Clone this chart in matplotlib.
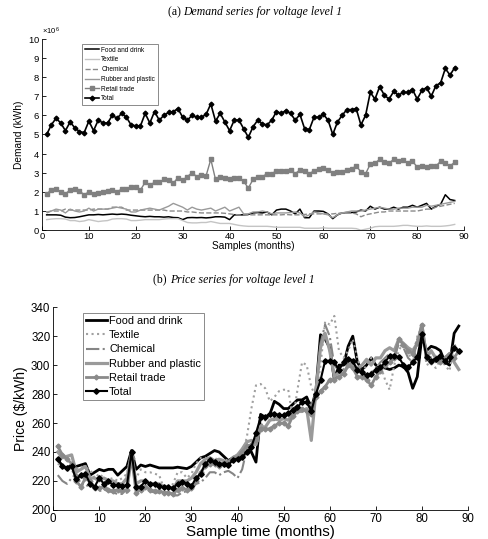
import numpy as np
import matplotlib
matplotlib.use("Agg")
import matplotlib.pyplot as plt
from matplotlib.ticker import ScalarFormatter

months = list(range(1, 89))

# ---- (a) Demand (units of 10^6 kWh) ----
d_total = [5.0,5.5,5.85,5.6,5.2,5.65,5.35,5.15,5.1,5.7,5.2,5.75,5.6,5.6,6.0,5.85,6.1,5.9,5.5,5.45,
           5.45,6.1,5.6,6.2,5.75,6.0,6.15,6.2,6.35,5.9,5.75,6.0,5.9,5.9,6.05,6.6,5.7,6.1,5.65,5.2,
           5.75,5.75,5.3,4.85,5.4,5.75,5.55,5.5,5.75,6.2,6.1,6.25,6.1,5.75,6.05,5.3,5.25,5.9,5.9,6.05,
           5.75,5.0,5.65,6.0,6.3,6.3,6.35,5.5,6.0,7.2,6.85,7.5,7.05,6.85,7.25,7.05,7.2,7.2,7.35,6.85,
           7.3,7.45,7.0,7.55,7.7,8.45,8.1,8.5]
d_retail = [1.9,2.1,2.15,2.0,1.9,2.1,2.15,2.05,1.85,2.0,1.9,1.95,2.0,2.05,2.1,2.0,2.15,2.15,2.25,2.25,
            2.1,2.5,2.35,2.5,2.5,2.65,2.6,2.45,2.75,2.6,2.8,3.0,2.8,2.9,2.85,3.7,2.65,2.8,2.7,2.65,
            2.7,2.7,2.55,2.2,2.65,2.8,2.8,2.95,2.95,3.1,3.1,3.1,3.15,2.95,3.15,3.1,2.95,3.1,3.2,3.25,
            3.15,3.0,3.05,3.05,3.15,3.2,3.35,3.05,2.95,3.45,3.5,3.7,3.55,3.5,3.7,3.6,3.65,3.5,3.6,3.3,
            3.35,3.3,3.35,3.35,3.6,3.5,3.35,3.55]
d_food = [0.8,0.8,0.8,0.78,0.68,0.65,0.66,0.7,0.75,0.8,0.8,0.82,0.8,0.82,0.84,0.82,0.84,0.82,0.78,0.75,
          0.72,0.7,0.72,0.7,0.7,0.68,0.7,0.66,0.65,0.55,0.65,0.66,0.65,0.66,0.64,0.66,0.7,0.7,0.68,0.55,
          0.8,0.8,0.8,0.82,0.9,0.92,0.9,0.95,0.8,1.05,1.1,1.1,1.0,0.85,1.1,0.65,0.65,1.0,1.0,0.98,
          0.85,0.6,0.8,0.9,0.92,0.92,0.95,1.05,1.0,1.25,1.1,1.2,1.1,1.1,1.2,1.1,1.2,1.2,1.3,1.2,
          1.3,1.4,1.1,1.25,1.35,1.85,1.6,1.55]
d_textile = [0.55,0.58,0.6,0.6,0.58,0.5,0.5,0.45,0.48,0.55,0.5,0.45,0.48,0.5,0.58,0.6,0.6,0.58,0.5,0.5,
             0.52,0.55,0.55,0.55,0.55,0.58,0.6,0.6,0.6,0.5,0.4,0.38,0.38,0.4,0.4,0.45,0.4,0.35,0.35,0.35,
             0.3,0.25,0.22,0.2,0.2,0.2,0.2,0.2,0.18,0.15,0.15,0.15,0.15,0.15,0.15,0.1,0.1,0.1,0.1,0.12,
             0.1,0.1,0.1,0.1,0.1,0.1,0.08,0.0,0.05,0.1,0.18,0.2,0.2,0.2,0.2,0.22,0.25,0.25,0.22,0.2,
             0.2,0.22,0.2,0.2,0.2,0.22,0.25,0.3]
d_chem = [0.9,1.0,1.0,1.0,1.1,1.05,1.05,1.05,1.05,1.05,1.1,1.1,1.1,1.1,1.2,1.2,1.2,1.05,1.05,1.05,
          1.05,1.05,1.05,1.05,1.05,1.05,1.0,1.0,1.0,1.0,0.95,0.95,0.92,0.9,0.9,0.9,0.9,0.9,0.88,0.85,
          0.82,0.8,0.8,0.8,0.8,0.8,0.8,0.8,0.8,0.8,0.8,0.82,0.8,0.8,0.8,0.82,0.85,0.85,0.85,0.85,
          0.85,0.85,0.88,0.9,0.9,0.9,0.85,0.7,0.8,0.85,0.9,0.95,0.95,1.0,1.0,1.0,1.0,1.0,1.0,1.0,
          1.05,1.1,1.1,1.2,1.25,1.3,1.35,1.4]
d_rubber = [0.95,1.0,1.1,1.05,0.9,1.1,1.0,0.95,1.0,1.15,1.0,1.1,1.1,1.1,1.15,1.2,1.15,1.1,0.95,0.95,
            1.05,1.1,1.15,1.1,1.05,1.15,1.25,1.4,1.3,1.2,1.05,1.2,1.1,1.05,1.1,1.15,1.0,1.1,1.2,1.0,
            1.1,1.2,0.85,0.85,0.95,0.95,1.0,0.95,0.85,0.9,0.9,0.9,0.92,0.95,0.9,0.7,0.8,0.95,0.9,0.85,
            0.8,0.65,0.8,0.9,0.95,1.0,1.0,1.0,1.05,1.1,1.15,1.2,1.15,1.1,1.1,1.15,1.15,1.15,1.2,1.2,
            1.2,1.3,1.25,1.3,1.35,1.4,1.45,1.5]

# ---- (b) Price ($/kWh) ----
p_total = [235.5,230,229,230,221,224,225,218,216,222,218,220,217,217,216.5,217,240,216,216,220,
           218,218,216.5,215.5,216,215,218,219.5,218,216.5,222,225,232,234.5,233,232,232,231,234.5,235.5,
           236.5,240,243.5,253,264,264,266.5,266.5,265.5,265.5,267,269,271,274.5,274.5,268,280,289.5,303,303,
           302,296.5,302,304.5,303,296.5,295,293,294,296.5,298.5,302,306.5,306.5,305.5,300,298.5,302,305.5,321.5,
           305.5,303,304.5,306.5,303,305.5,312,310]
p_food = [235,230,229,231,230,231,232,224,226,228,227,228,228,224,227,230,241,228,231,230,
          231,230,229,229,229,229,229.5,229,228.5,230,233,236,237,239,241,240,237,234,236,237,
          241,245,240,233,266,264,266,275,273,270,270,273,276,276,278,270,282,321,318,312,
          290,300,300,313,320,302,297,300,305,300,299,298,297,298,300,299,295,284,292,320,
          310,313,312,310,302,300,322,327]
p_textile = [232,230,228,226,228,230,229,228,222,225,222,221,222,220,222,225,240,222,228,226,
             226,225,224,215,215,218,226,226,222,225,232,236,236,235,236,234,235,234,235,238,
             238,250,270,286,287,284,275,278,282,283,283,263,283,302,300,285,278,300,330,328,
             334,310,305,310,318,305,295,300,305,300,300,290,283,300,310,316,310,300,320,326,
             300,302,298,304,300,296,315,308]
p_chem = [224,220,218,222,225,218,216,218,214,213,214,213,212,211,211,212,238,213,214,215,
          213,212,212,211,212,210,210,212,213,214,218,219,222,226,226,224,226,227,225,222,
          228,242,242,248,258,262,262,262,265,265,265,270,272,275,275,272,278,315,328,320,
          300,296,297,302,300,295,293,290,295,298,302,305,308,305,315,312,305,302,318,326,
          310,305,302,305,302,305,312,312]
p_rubber = [240,236,237,238,226,228,230,222,222,220,222,220,220,218,218,222,239,218,220,220,
            218,218,218,216,216,214,220,220,220,222,226,232,235,236,234,235,234,232,236,238,
            242,247,248,245,258,257,262,263,262,263,262,266,268,268,270,248,282,312,322,310,
            292,295,294,300,300,298,300,304,300,305,305,310,312,310,318,315,312,310,315,328,
            305,310,305,302,305,308,302,297]
p_retail = [244,238,235,232,220,216,222,220,215,215,216,214,213,214,213,214,236,212,214,216,
            214,213,213,212,212,211,214,215,214,215,220,226,230,232,232,230,232,233,236,236,
            240,244,245,248,256,256,256,258,260,260,258,265,268,270,268,266,278,282,285,290,
            290,292,294,300,298,292,292,290,286,292,296,300,302,305,318,314,310,308,315,328,
            305,302,305,302,305,308,305,310]

labels = ["Food and drink", "Textile", "Chemical", "Rubber and plastic", "Retail trade", "Total"]

plt.rcParams['font.family'] = ['Liberation Sans', 'DejaVu Sans']
plt.rcParams['mathtext.fontset'] = 'custom'
plt.rcParams['mathtext.rm'] = 'Liberation Sans'
fig = plt.figure(figsize=(4.88, 5.39), dpi=100)
serif = ['Liberation Serif', 'DejaVu Serif']

# ---------- Panel (a) ----------
ax1 = fig.add_axes([0.086, 0.573, 0.865, 0.355])
sc = 1e6
ax1.plot(months, np.array(d_food) * sc, color='black', lw=1.1, label=labels[0])
ax1.plot(months, np.array(d_textile) * sc, color='#c4c4c4', lw=1.0, label=labels[1])
ax1.plot(months, np.array(d_chem) * sc, color='#8a8a8a', lw=1.0, ls='--', label=labels[2])
ax1.plot(months, np.array(d_rubber) * sc, color='#9a9a9a', lw=1.0, label=labels[3])
ax1.plot(months, np.array(d_retail) * sc, color='#808080', lw=1.0, marker='s', ms=2.6, label=labels[4])
ax1.plot(months, np.array(d_total) * sc, color='black', lw=1.2, marker='D', ms=2.4, label=labels[5])
ax1.set_xlim(0, 90)
ax1.set_ylim(0, 10e6)
ax1.set_xticks(range(0, 91, 10))
ax1.set_yticks(np.arange(0, 11) * 1e6)
fmt = ScalarFormatter(useMathText=True)
fmt.set_powerlimits((6, 6))
ax1.yaxis.set_major_formatter(fmt)
ax1.yaxis.get_offset_text().set_fontsize(5.5)
ax1.tick_params(direction='in', labelsize=6.8, length=3, width=0.6, pad=1.5)
for s in ['top', 'right']:
    ax1.spines[s].set_visible(False)
for s in ['left', 'bottom']:
    ax1.spines[s].set_linewidth(0.6)
ax1.set_xlabel("Samples (months)", fontsize=7.3, labelpad=0)
ax1.set_ylabel("Demand (kWh)", fontsize=7.3, labelpad=3)
leg1 = ax1.legend(loc='upper left', bbox_to_anchor=(0.088, 0.99), fontsize=4.7, frameon=True,
                  fancybox=False, edgecolor='#555555', handlelength=2.2, labelspacing=0.42,
                  borderpad=0.4, handletextpad=0.3)
leg1.get_frame().set_linewidth(0.6)
fig.text(0.376, 0.977, "(a) ", fontsize=8.5, family=serif, ha='right', va='center')
fig.text(0.376, 0.977, "Demand series for voltage level 1", fontsize=8.5, family=serif,
         style='italic', ha='left', va='center')

# ---------- Panel (b) ----------
ax2 = fig.add_axes([0.109, 0.054, 0.85, 0.376])
ax2.plot(months, p_food, color='black', lw=2.0, label=labels[0])
ax2.plot(months, p_textile, color='#a0a0a0', lw=1.5, ls=':', label=labels[1])
ax2.plot(months, p_chem, color='#858585', lw=1.5, ls='-.', label=labels[2])
ax2.plot(months, p_rubber, color='#9a9a9a', lw=2.3, label=labels[3])
ax2.plot(months, p_retail, color='#8a8a8a', lw=2.0, marker='D', ms=2.5, label=labels[4])
ax2.plot(months, p_total, color='black', lw=1.5, marker='D', ms=2.8, label=labels[5])
ax2.set_xlim(0, 90)
ax2.set_ylim(200, 340)
ax2.set_xticks(range(0, 91, 10))
ax2.set_yticks(range(200, 341, 20))
ax2.tick_params(direction='in', labelsize=8.3, length=3, width=0.6, pad=2)
for s in ['top', 'right']:
    ax2.spines[s].set_visible(False)
for s in ['left', 'bottom']:
    ax2.spines[s].set_linewidth(0.6)
ax2.set_xlabel("Sample time (months)", fontsize=11, labelpad=0)
ax2.set_ylabel("Price ($/kWh)", fontsize=10, labelpad=2)
leg2 = ax2.legend(loc='upper left', bbox_to_anchor=(0.058, 1.0), fontsize=7.9, frameon=True,
                  fancybox=False, edgecolor='#555555', handlelength=1.9, labelspacing=0.38,
                  borderpad=0.3, handletextpad=0.2)
leg2.get_frame().set_linewidth(0.6)
fig.text(0.348, 0.481, "(b) ", fontsize=8.5, family=serif, ha='right', va='center')
fig.text(0.348, 0.481, "Price series for voltage level 1", fontsize=8.5, family=serif,
         style='italic', ha='left', va='center')

fig.savefig("out.png", dpi=100)
